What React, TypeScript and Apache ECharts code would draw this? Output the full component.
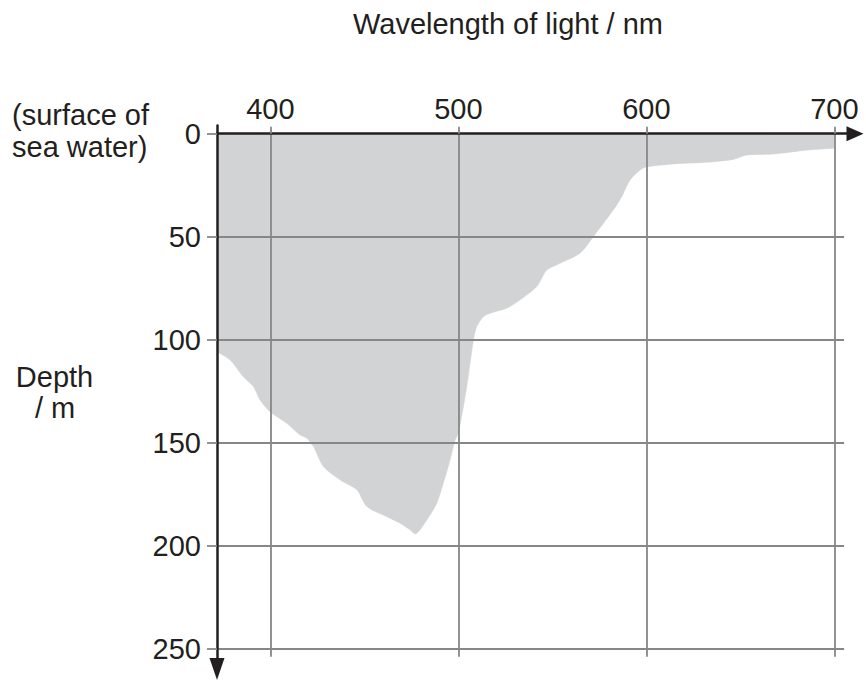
import React, { useEffect, useRef } from "react";
import * as echarts from "echarts";

// Penetration depth (m) of light by wavelength (nm)
const wavelengths = [
  371.6, 378.6, 385.6, 391.0, 394.5, 399.8, 408.7, 415.8, 419.4, 422.9, 428.2,
  437.1, 446.0, 451.3, 461.9, 469.0, 474.3, 477.0, 483.2, 488.5, 492.0, 495.6,
  498.3, 500.0, 504.5, 508.0, 509.8, 513.3, 516.9, 525.7, 532.8, 541.7, 547.0,
  552.3, 564.7, 571.8, 582.4, 586.9, 591.3, 596.6, 600.2, 614.4, 632.1, 646.3,
  653.4, 667.6, 685.3, 700.0,
];
const depths = [
  105.8, 109.8, 117.9, 122.7, 129.2, 134.9, 140.5, 146.2, 147.8, 151.8, 161.5,
  168.0, 172.8, 180.9, 185.8, 189.0, 192.2, 194.2, 187.4, 179.3, 169.6, 158.3,
  148.6, 145.3, 122.7, 100.1, 93.6, 88.8, 87.1, 84.7, 80.7, 74.2, 66.2,
  63.7, 58.0, 50.0, 37.1, 30.6, 22.5, 17.7, 16.1, 14.7, 13.9, 12.5,
  10.4, 9.9, 8.0, 7.1,
];
const xTickValues = [400, 500, 600, 700];
const yTickValues = [0, 50, 100, 150, 200, 250];
const xTitle = "Wavelength of light / nm";
const surfaceLines = ["(surface of", "sea water)"];
const yTitleLines = ["Depth", "/ m"];

export default function App() {
  const ref = useRef<HTMLDivElement>(null);
  useEffect(() => {
    const chart = echarts.init(ref.current!, null, { renderer: "svg" });
    const X_MIN = 371.6;
    const X_MAX = 711;
    const Y_MIN = -4;
    const Y_MAX = 259.7;
    const gridColor = "#878787";
    const ink = "#231f20";
    const font = "'Liberation Sans', Arial, Helvetica, sans-serif";
    const fs = 29;

    const markData: any[] = [
      ...xTickValues.map((v) => [{ coord: [v, 0] }, { coord: [v, 253.7] }]),
      ...yTickValues
        .filter((v) => v > 0)
        .map((v) => [{ coord: [X_MIN, v] }, { coord: [705.2, v] }]),
    ];

    const textStyle = (text: string, x: number, y: number, align: string) => ({
      type: "text",
      x,
      y,
      silent: true,
      style: {
        text,
        fontSize: fs,
        fontFamily: font,
        fill: ink,
        align,
        verticalAlign: "middle",
      },
    });

    chart.setOption({
      animation: false,
      backgroundColor: "#ffffff",
      grid: { left: 217, top: 125.4, width: 638, height: 543.6, containLabel: false },
      xAxis: {
        type: "value",
        position: "top",
        min: X_MIN,
        max: X_MAX,
        z: 10,
        axisLine: {
          show: true,
          onZero: true,
          symbol: ["none", "triangle"],
          symbolSize: [15, 17],
          lineStyle: { color: ink, width: 2.5 },
        },
        axisTick: {
          show: true,
          customValues: xTickValues,
          length: 7,
          inside: false,
          lineStyle: { color: gridColor, width: 1.8 },
        },
        axisLabel: {
          show: true,
          customValues: xTickValues,
          margin: 2,
          fontSize: fs,
          fontFamily: font,
          color: ink,
        },
        splitLine: { show: false },
      },
      yAxis: {
        type: "value",
        inverse: true,
        min: Y_MIN,
        max: Y_MAX,
        z: 10,
        axisLine: {
          show: true,
          onZero: false,
          symbol: ["triangle", "none"],
          symbolSize: [15, 22],
          lineStyle: { color: ink, width: 2.5 },
        },
        axisTick: {
          show: true,
          customValues: yTickValues,
          length: 10,
          inside: false,
          lineStyle: { color: gridColor, width: 1.8 },
        },
        axisLabel: {
          show: true,
          customValues: yTickValues,
          margin: 16,
          fontSize: fs,
          fontFamily: font,
          color: ink,
        },
        splitLine: { show: false },
      },
      series: [
        {
          type: "line",
          data: wavelengths.map((w, i) => [w, depths[i]]),
          symbol: "none",
          smooth: 0.25,
          silent: true,
          lineStyle: { width: 0.5, color: "#d1d3d4" },
          areaStyle: { color: "#d1d3d4", opacity: 1 },
          markLine: {
            silent: true,
            symbol: ["none", "none"],
            label: { show: false },
            lineStyle: { color: gridColor, width: 1.8, type: "solid" },
            emphasis: { disabled: true },
            data: markData,
          },
        },
      ],
      graphic: [
        textStyle(xTitle, 508, 24, "center"),
        textStyle(surfaceLines[0], 12, 115, "left"),
        textStyle(surfaceLines[1], 12, 146.7, "left"),
        textStyle(yTitleLines[0], 54.5, 376.7, "center"),
        textStyle(yTitleLines[1], 35, 408.3, "left"),
      ],
    });
    return () => chart.dispose();
  }, []);
  return (
    <div
      ref={ref}
      style={{ position: "absolute", left: 0, top: 0, width: 866, height: 681 }}
    />
  );
}
